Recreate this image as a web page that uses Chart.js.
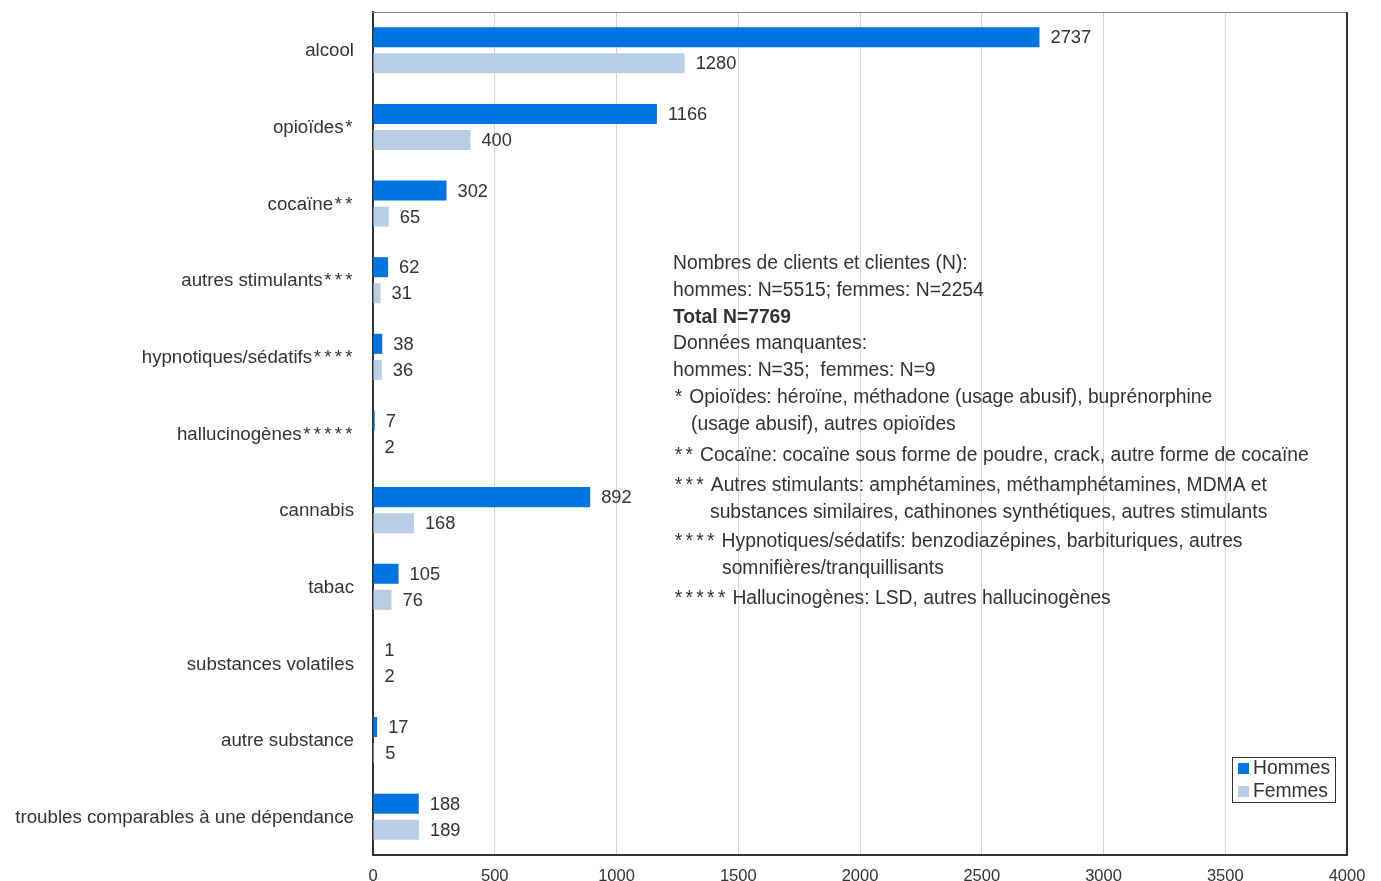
<!DOCTYPE html>
<html><head><meta charset="utf-8">
<script src="https://cdn.jsdelivr.net/npm/chart.js@4"></script>
<style>html,body{margin:0;padding:0;background:#fff;overflow:hidden}#wrap{width:1381px;height:881px;position:relative}</style>
</head><body><div id="wrap"><canvas id="c" width="1381" height="881"></canvas></div>
<script>
const categories = ["alcool","opioïdes*","cocaïne**","autres stimulants***","hypnotiques/sédatifs****","hallucinogènes*****","cannabis","tabac","substances volatiles","autre substance","troubles comparables à une dépendance"];
const hommes = [2737,1166,302,62,38,7,892,105,1,17,188];
const femmes = [1280,400,65,31,36,2,168,76,2,5,189];
const seriesNames = ["Hommes","Femmes"];
const xTicks = [0,500,1000,1500,2000,2500,3000,3500,4000];
const noteLines = [
  ["Nombres de clients et clientes (N):",0,false,0],
  ["hommes: N=5515; femmes: N=2254",0,false,0],
  ["Total N=7769",0,true,0],
  ["Données manquantes:",0,false,0],
  ["hommes: N=35;  femmes: N=9",0,false,0],
  ["* Opioïdes: héroïne, méthadone (usage abusif), buprénorphine",0,false,0],
  ["(usage abusif), autres opioïdes",18,false,0],
  ["** Cocaïne: cocaïne sous forme de poudre, crack, autre forme de cocaïne",0,false,5],
  ["*** Autres stimulants: amphétamines, méthamphétamines, MDMA et",0,false,3],
  ["substances similaires, cathinones synthétiques, autres stimulants",37,false,0],
  ["**** Hypnotiques/sédatifs: benzodiazépines, barbituriques, autres",0,false,3],
  ["somnifières/tranquillisants",49,false,0],
  ["***** Hallucinogènes: LSD, autres hallucinogènes",0,false,3]
];
const FONT = "'Liberation Sans', Arial, sans-serif";
const TXT = "#333";
const C1 = "#0074e0", C2 = "#bacfe6";

function segs(text){ return text.match(/\*+|[^*]+/g) || []; }
function richWidth(ctx, text, size){
  let w = 0;
  segs(text).forEach(s=>{ w += s[0]==='*' ? s.length*size*0.56 : ctx.measureText(s).width; });
  return w;
}
function drawRich(ctx, text, x, y, align, size){
  let cx = align==='right' ? x - richWidth(ctx, text, size) : x;
  ctx.textAlign = 'left';
  segs(text).forEach(s=>{
    if (s[0]==='*'){
      const adv = size*0.56, gw = ctx.measureText('*').width;
      for (let k=0;k<s.length;k++){ ctx.fillText('*', cx + (adv-gw)/2, y); cx += adv; }
    } else { ctx.fillText(s, cx, y); cx += ctx.measureText(s).width; }
  });
}

const extras = {
  id:'extras',
  afterDatasetsDraw(chart){
    const ctx = chart.ctx, a = chart.chartArea;
    ctx.save();
    // frame
    ctx.strokeStyle = "#888"; ctx.lineWidth = 1;
    ctx.beginPath(); ctx.moveTo(a.left, a.top+0.5); ctx.lineTo(a.right, a.top+0.5); ctx.stroke();
    ctx.strokeStyle = "#333"; ctx.lineWidth = 2;
    ctx.beginPath(); ctx.moveTo(a.right, a.top); ctx.lineTo(a.right, a.bottom); ctx.stroke();
    ctx.fillStyle = TXT; ctx.textBaseline = "middle";
    // category labels via y scale
    const ys = chart.scales.y;
    ctx.font = "18.7px " + FONT;
    ys.getLabels().forEach((lab,i)=>{
      drawRich(ctx, lab, a.left - 19, ys.getPixelForValue(i) + 1, 'right', 18.7);
    });
    // data labels
    ctx.font = "18.3px " + FONT; ctx.textAlign = "left";
    chart.data.datasets.forEach((ds,i)=>{
      chart.getDatasetMeta(i).data.forEach((bar,j)=>{
        ctx.fillText(String(ds.data[j]), bar.x + 11, bar.y + 1);
      });
    });
    // notes
    let y = 264;
    const x0 = 673;
    noteLines.forEach(([t,ind,bold,extra])=>{
      y += extra;
      ctx.font = (bold? "bold ":"") + "19.3px " + FONT;
      drawRich(ctx, t, x0 + ind, y, 'left', 19.3);
      y += 26.7;
    });
    // legend
    const lx = 1232, ly = 757, lw = 103, lh = 45;
    ctx.fillStyle = "#fff"; ctx.fillRect(lx, ly, lw, lh);
    ctx.strokeStyle = "#333"; ctx.lineWidth = 1; ctx.strokeRect(lx+0.5, ly+0.5, lw, lh);
    [[C1,seriesNames[0],768],[C2,seriesNames[1],791]].forEach(([c,t,yy])=>{
      ctx.fillStyle = c; ctx.fillRect(lx+6, yy-5, 11, 11);
      ctx.fillStyle = TXT; ctx.font = "19.3px " + FONT; ctx.textAlign = "left"; ctx.fillText(t, lx+21, yy+1);
    });
    ctx.restore();
  }
};

new Chart(document.getElementById('c'), {
  type:'bar',
  data:{
    labels: categories,
    datasets:[
      {label:seriesNames[0], data:hommes, backgroundColor:C1, categoryPercentage:0.679, barPercentage:0.77},
      {label:seriesNames[1], data:femmes, backgroundColor:C2, categoryPercentage:0.679, barPercentage:0.77}
    ]
  },
  options:{
    indexAxis:'y', responsive:false, animation:false,
    layout:{padding:{top:12,right:34,left:0,bottom:0}},
    plugins:{legend:{display:false}, tooltip:{enabled:false}},
    scales:{
      x:{min:0,max:4000,
        afterBuildTicks(s){ s.ticks = xTicks.map(v=>({value:v})); },
        afterFit(s){ s.height = 26; s.paddingLeft = 0; s.paddingRight = 0; },
        grid:{color:"#c6d7ec", drawTicks:false, lineWidth:1},
        border:{color:"#333", width:2},
        ticks:{padding:12, color:TXT, font:{family:FONT, size:16.5}, maxRotation:0, callback:(v)=>String(v)}
      },
      y:{
        afterFit(s){ s.width = 373; s.paddingTop = 0; s.paddingBottom = 0; },
        grid:{display:false, drawTicks:false},
        border:{color:"#333", width:2},
        ticks:{display:false, autoSkip:false}
      }
    }
  },
  plugins:[extras]
});
</script></body></html>
